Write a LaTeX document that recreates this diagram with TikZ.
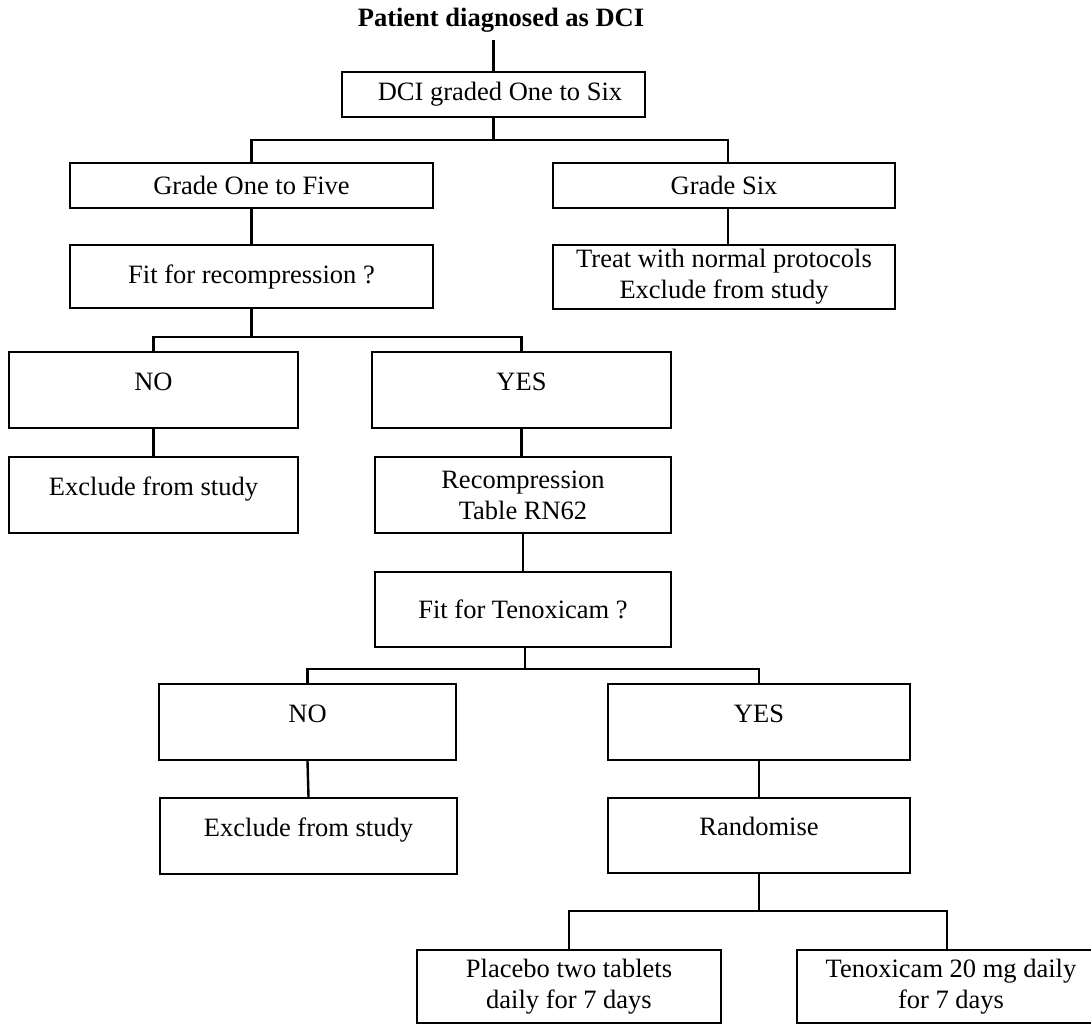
\documentclass[tikz,border=0pt]{standalone}
\usepackage{fontspec}
\setmainfont{Liberation Serif}
\begin{document}
\begin{tikzpicture}[x=1pt,y=-1pt,
  box/.style={draw, line width=2.4pt, inner sep=0pt, align=center, font=\fontsize{26.5}{31}\selectfont},
  hi/.style={text height=18pt, text depth=18pt},
  link/.style={line width=2.4pt}]
\clip (0,0) rectangle (1091,1025);
\node[font=\bfseries\fontsize{26.5}{31}\selectfont] (title) at (501,20) {Patient diagnosed as DCI};
\node[box, minimum width=303pt, minimum height=45pt] (dci) at (493.5,94.5) {\hspace*{13pt}DCI graded One to Six};
\node[box, minimum width=363pt, minimum height=45pt] (g15) at (251.5,185.5) {Grade One to Five};
\node[box, minimum width=342pt, minimum height=45pt] (g6) at (724,185.5) {Grade Six};
\node[box, minimum width=363pt, minimum height=63pt] (fitr) at (251.5,276.5) {Fit for recompression ?};
\node[box, minimum width=342pt, minimum height=64pt] (treat) at (724,277) {Treat with normal protocols\\Exclude from study};
\node[box, hi, minimum width=289pt, minimum height=76pt] (no1) at (153.5,390) {NO};
\node[box, hi, minimum width=299pt, minimum height=76pt] (yes1) at (521.5,390) {YES};
\node[box, hi, minimum width=289pt, minimum height=76pt] (ex1) at (153.5,495) {Exclude from study};
\node[box, minimum width=296pt, minimum height=76pt] (rec) at (523,495) {Recompression\\Table RN62};
\node[box, minimum width=296pt, minimum height=75pt] (fitt) at (523,609.5) {Fit for Tenoxicam ?};
\node[box, hi, minimum width=297pt, minimum height=76pt] (no2) at (307.5,722) {NO};
\node[box, hi, minimum width=302pt, minimum height=76pt] (yes2) at (759,722) {YES};
\node[box, hi, minimum width=297pt, minimum height=76pt] (ex2) at (308.5,836) {Exclude from study};
\node[box, hi, minimum width=302pt, minimum height=75pt] (rand) at (759,835.5) {Randomise};
\node[box, minimum width=304pt, minimum height=73pt] (plac) at (569,986.5) {Placebo two tablets\\daily for 7 days};
\node[box, minimum width=308pt, minimum height=73pt] (tenox) at (951,986.5) {Tenoxicam 20 mg daily\\for 7 days};
% connectors
\draw[link] (dci.north) -- ++(0,-31);
\draw[link] (g15.north) -- ++(0,-22) coordinate (b1) -| ([xshift=4pt]g6.north);
\draw[link] (dci.south) -- (dci.south |- b1);
\draw[link] (g15.south) -- (fitr.north);
\draw[link] ([xshift=4pt]g6.south) -- ([xshift=4pt]treat.north);
\draw[link] (no1.north) -- ++(0,-14) coordinate (b2) -| (yes1.north);
\draw[link] (fitr.south) -- (fitr.south |- b2);
\draw[link] (no1.south) -- (ex1.north);
\draw[link] (yes1.south) -- (yes1.south |- rec.north);
\draw[link] (rec.south) -- (fitt.north);
\draw[link] (no2.north) -- ++(0,-14) coordinate (b3) -| (yes2.north);
\draw[link] ([xshift=2pt]fitt.south) -- ([xshift=2pt]fitt.south |- b3);
\draw[link] (no2.south) -- (ex2.north);
\draw[link] (yes2.south) -- (rand.north);
\draw[link] (plac.north) -- ++(0,-38) coordinate (b4) -| ([xshift=-4pt]tenox.north);
\draw[link] (rand.south) -- (rand.south |- b4);
\end{tikzpicture}
\end{document}
